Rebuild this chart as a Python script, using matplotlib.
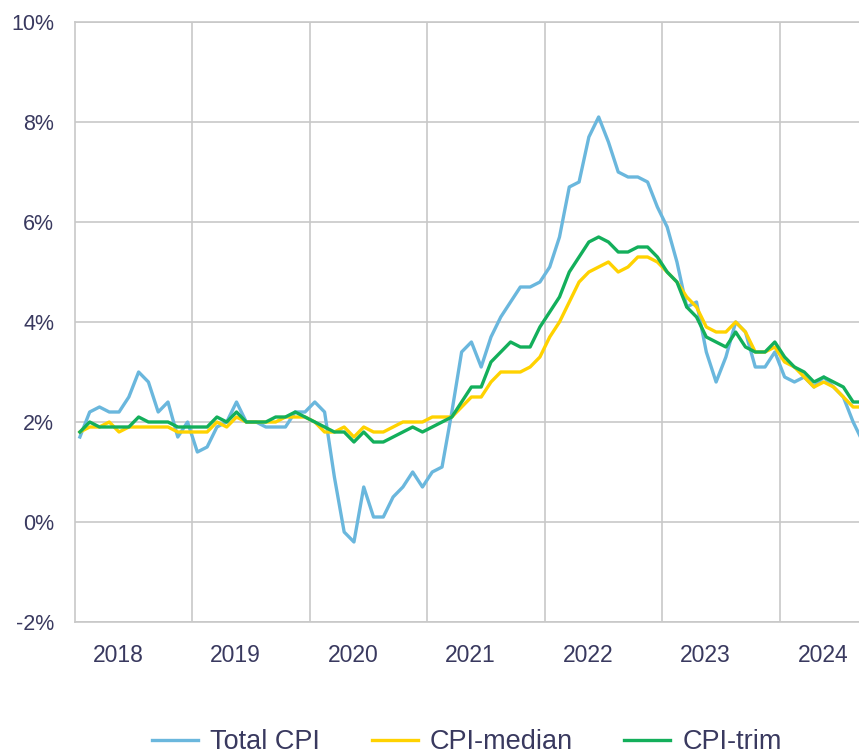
import numpy as np
import matplotlib
matplotlib.use("Agg")
import matplotlib.pyplot as plt

# Monthly year-over-year inflation, Jan 2018 - Sep 2024 (%)
years = [2018, 2019, 2020, 2021, 2022, 2023, 2024]

total_cpi = [
    1.7, 2.2, 2.3, 2.2, 2.2, 2.5, 3.0, 2.8, 2.2, 2.4, 1.7, 2.0,
    1.4, 1.5, 1.9, 2.0, 2.4, 2.0, 2.0, 1.9, 1.9, 1.9, 2.2, 2.2,
    2.4, 2.2, 0.9, -0.2, -0.4, 0.7, 0.1, 0.1, 0.5, 0.7, 1.0, 0.7,
    1.0, 1.1, 2.2, 3.4, 3.6, 3.1, 3.7, 4.1, 4.4, 4.7, 4.7, 4.8,
    5.1, 5.7, 6.7, 6.8, 7.7, 8.1, 7.6, 7.0, 6.9, 6.9, 6.8, 6.3,
    5.9, 5.2, 4.3, 4.4, 3.4, 2.8, 3.3, 4.0, 3.8, 3.1, 3.1, 3.4,
    2.9, 2.8, 2.9, 2.7, 2.9, 2.7, 2.5, 2.0, 1.6,
]
cpi_median = [
    1.8, 1.9, 1.9, 2.0, 1.8, 1.9, 1.9, 1.9, 1.9, 1.9, 1.8, 1.8,
    1.8, 1.8, 2.0, 1.9, 2.1, 2.0, 2.0, 2.0, 2.0, 2.1, 2.1, 2.1,
    2.0, 1.8, 1.8, 1.9, 1.7, 1.9, 1.8, 1.8, 1.9, 2.0, 2.0, 2.0,
    2.1, 2.1, 2.1, 2.3, 2.5, 2.5, 2.8, 3.0, 3.0, 3.0, 3.1, 3.3,
    3.7, 4.0, 4.4, 4.8, 5.0, 5.1, 5.2, 5.0, 5.1, 5.3, 5.3, 5.2,
    5.0, 4.8, 4.5, 4.3, 3.9, 3.8, 3.8, 4.0, 3.8, 3.4, 3.4, 3.5,
    3.2, 3.1, 2.9, 2.7, 2.8, 2.7, 2.5, 2.3, 2.3,
]
cpi_trim = [
    1.8, 2.0, 1.9, 1.9, 1.9, 1.9, 2.1, 2.0, 2.0, 2.0, 1.9, 1.9,
    1.9, 1.9, 2.1, 2.0, 2.2, 2.0, 2.0, 2.0, 2.1, 2.1, 2.2, 2.1,
    2.0, 1.9, 1.8, 1.8, 1.6, 1.8, 1.6, 1.6, 1.7, 1.8, 1.9, 1.8,
    1.9, 2.0, 2.1, 2.4, 2.7, 2.7, 3.2, 3.4, 3.6, 3.5, 3.5, 3.9,
    4.2, 4.5, 5.0, 5.3, 5.6, 5.7, 5.6, 5.4, 5.4, 5.5, 5.5, 5.3,
    5.0, 4.8, 4.3, 4.1, 3.7, 3.6, 3.5, 3.8, 3.5, 3.4, 3.4, 3.6,
    3.3, 3.1, 3.0, 2.8, 2.9, 2.8, 2.7, 2.4, 2.4,
]

plt.rcParams['font.family'] = ['Liberation Sans', 'DejaVu Sans']
text_color = '#39395f'
grid_color = '#c8c8c8'

# x in months since Jan 2018, each point at mid-month
months = np.arange(len(total_cpi)) + 0.5

fig = plt.figure(figsize=(8.59, 7.55), dpi=100)
ax = fig.add_axes([75 / 859, 1 - 622 / 755, 1 - 75 / 859, 600 / 755])

ax.plot(months, total_cpi, color='#6ab7dd', lw=2.4, label='Total CPI')
ax.plot(months, cpi_median, color='#ffd200', lw=2.4, label='CPI-median')
ax.plot(months, cpi_trim, color='#13af5b', lw=2.4, label='CPI-trim')

ax.set_xlim(0, 80.1)
ax.set_ylim(-2, 10)

ax.set_yticks(np.arange(-2, 11, 2))
ax.set_yticklabels([f'{v}%' for v in range(-2, 11, 2)])
ax.set_xticks([12 * i + 4.4 for i in range(len(years))])
ax.set_xticklabels([str(y) for y in years])
ax.set_xticks([12 * i for i in range(1, len(years))], minor=True)

ax.tick_params(axis='y', length=0, pad=15, labelsize=15.5, labelcolor=text_color)
ax.tick_params(axis='x', which='both', length=0, pad=16, labelsize=16.5,
               labelcolor=text_color)
ax.grid(True, axis='y', color=grid_color, lw=1.2)
ax.grid(True, axis='x', which='minor', color=grid_color, lw=1.2)
ax.set_axisbelow(True)

for side in ['left', 'top', 'bottom']:
    ax.spines[side].set_color(grid_color)
    ax.spines[side].set_linewidth(1.2)
ax.spines['right'].set_visible(False)

fig.legend(loc='center', bbox_to_anchor=(467 / 859, 1 - 742 / 755), ncol=3,
           frameon=False, fontsize=19.5, labelcolor=text_color,
           handlelength=1.7, handletextpad=0.45, columnspacing=1.9)

fig.savefig('out.png', dpi=100)
